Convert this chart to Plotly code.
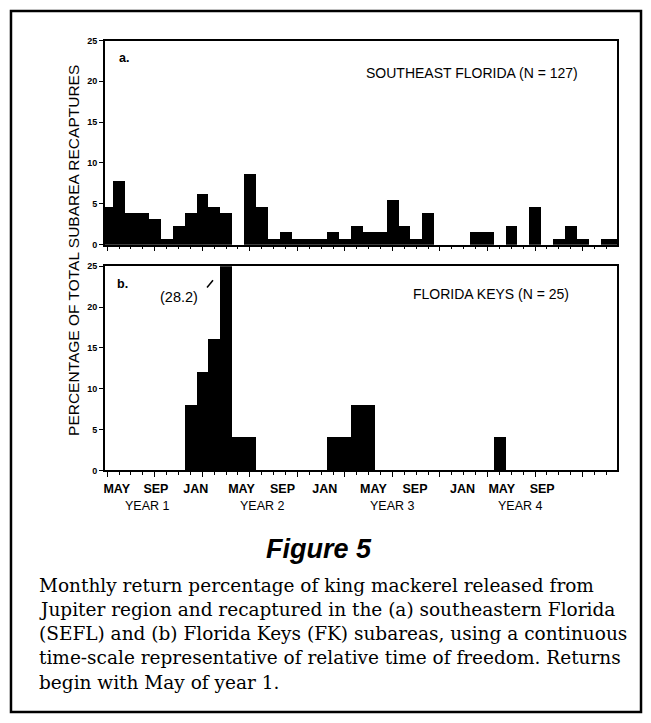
import plotly.graph_objects as go

# ---------------- data ----------------
# month index: 0 = May of year 1
months = list(range(44))
sefl_pct = [4.72, 7.87, 3.94, 3.94, 3.15, 0.79, 2.36, 3.94, 6.30, 4.72, 3.94, 0,
            8.66, 4.72, 0.79, 1.57, 0.79, 0.79, 0.79, 1.57, 0.79, 2.36, 1.57, 1.57,
            5.51, 2.36, 0.79, 3.94, 0, 0, 0, 1.57, 1.57, 0, 2.36, 0, 4.72, 0,
            0.79, 2.36, 0.79, 0, 0.79, 0.79]
fk_pct = [0, 0, 0, 0, 0, 0, 0, 8, 12, 16, 28.2, 4,
          4, 0, 0, 0, 0, 0, 0, 4, 4, 8, 8, 0,
          0, 0, 0, 0, 0, 0, 0, 0, 0, 4, 0, 0, 0, 0,
          0, 0, 0, 0, 0, 0]
month_labels = ["MAY", "SEP", "JAN", "MAY", "SEP", "JAN", "MAY", "SEP", "JAN", "MAY", "SEP"]
month_label_pos = [0.8, 4.1, 7.45, 11.3, 14.75, 18.3, 22.4, 25.9, 29.9, 33.2, 36.6]
year_labels = ["YEAR 1", "YEAR 2", "YEAR 3", "YEAR 4"]
year_label_pos = [3.4, 13.1, 24.0, 34.8]
y_ticks = [0, 5, 10, 15, 20, 25]
major_ticks = [0, 4, 8, 12, 16, 20, 24, 28, 32, 36, 40]
caption_lines = [
    "Monthly return percentage of king mackerel released from",
    "Jupiter region and recaptured in the (a) southeastern Florida",
    "(SEFL) and (b) Florida Keys (FK) subareas, using a continuous",
    "time-scale representative of relative time of freedom. Returns",
    "begin with May of year 1.",
]

W, H = 651, 723
XR = [-0.2, 42.9]
SANS = "Liberation Sans"


def py(p):
    return 1 - p / H


fig = go.Figure()
fig.add_trace(go.Bar(x=months, y=sefl_pct, width=1, marker=dict(color="black", line=dict(width=0)),
                     xaxis="x", yaxis="y", showlegend=False, hoverinfo="skip"))
fig.add_trace(go.Bar(x=months, y=fk_pct, width=1, marker=dict(color="black", line=dict(width=0)),
                     xaxis="x2", yaxis="y2", showlegend=False, hoverinfo="skip"))
# invisible trace so that the label axis (x3) is drawn
fig.add_trace(go.Scatter(x=month_label_pos, y=[0] * len(month_label_pos), mode="markers",
                         marker=dict(opacity=0), xaxis="x3", yaxis="y2", showlegend=False,
                         hoverinfo="skip"))

xdom = [104 / W, 617 / W]
common_x = dict(range=XR, showline=True, linecolor="black", linewidth=1.5, mirror=True,
                showgrid=False, zeroline=False, tickmode="array", tickvals=major_ticks,
                ticks="outside", ticklen=5, tickwidth=1.3, tickcolor="black",
                showticklabels=False,
                minor=dict(tickmode="linear", tick0=0, dtick=1, ticks="outside", ticklen=3,
                           tickwidth=1, tickcolor="black", showgrid=False))
common_y = dict(range=[0, 25], showline=True, linecolor="black", linewidth=1.5, mirror=True,
                showgrid=False, zeroline=False, tickmode="array", tickvals=y_ticks,
                ticks="outside", ticklen=4, tickwidth=1.3, tickcolor="black",
                tickfont=dict(family=SANS, size=9, color="black", weight="bold"))

fig.update_layout(
    width=W, height=H, autosize=False,
    margin=dict(l=0, r=0, t=0, b=0),
    paper_bgcolor="white", plot_bgcolor="white",
    bargap=0, barmode="overlay",
    xaxis=dict(domain=xdom, anchor="y", **common_x),
    yaxis=dict(domain=[py(243), py(36)], anchor="x", **common_y),
    xaxis2=dict(domain=xdom, anchor="y2", **common_x),
    yaxis2=dict(domain=[py(472), py(265)], anchor="x2", **common_y),
    xaxis3=dict(domain=xdom, anchor="y2", overlaying="x2", side="bottom", range=XR,
                showline=False, showgrid=False, zeroline=False, ticks="",
                tickmode="array", tickvals=month_label_pos, ticktext=month_labels,
                tickfont=dict(family=SANS, size=12.5, color="black", weight="bold"),
                ticklabelstandoff=9),
)

ann = []
# panel labels
ann.append(dict(x=1.4, y=22.8, xref="x", yref="y", text="a.", showarrow=False,
                font=dict(family=SANS, size=12.5, color="black", weight="bold")))
ann.append(dict(x=39.8, y=21.0, xref="x", yref="y", text="SOUTHEAST FLORIDA (N = 127)",
                xanchor="right", showarrow=False, font=dict(family=SANS, size=14, color="black")))
ann.append(dict(x=1.3, y=22.8, xref="x2", yref="y2", text="b.", showarrow=False,
                font=dict(family=SANS, size=12.5, color="black", weight="bold")))
ann.append(dict(x=39.0, y=21.6, xref="x2", yref="y2", text="FLORIDA KEYS (N = 25)",
                xanchor="right", showarrow=False, font=dict(family=SANS, size=14, color="black")))
ann.append(dict(x=6.0, y=21.2, xref="x2", yref="y2", text="(28.2)", showarrow=False,
                font=dict(family=SANS, size=14.5, color="black")))
# year labels
for t, xp in zip(year_labels, year_label_pos):
    ann.append(dict(x=xp, y=py(517), xref="x2", yref="paper", text=t, showarrow=False,
                    font=dict(family=SANS, size=12.5, color="black")))
# y-axis title
ann.append(dict(x=62 / W, y=py(249), xref="paper", yref="paper", showarrow=False,
                text="PERCENTAGE OF TOTAL SUBAREA RECAPTURES", textangle=-90,
                font=dict(family=SANS, size=15.5, color="black")))
# caption
ann.append(dict(x=318 / W, y=py(569), xref="paper", yref="paper", showarrow=False,
                text="<b><i>Figure 5</i></b>", font=dict(family=SANS, size=27, color="black")))
for i, line in enumerate(caption_lines):
    ann.append(dict(x=36 / W, y=py(601 + 24.6 * i), xref="paper", yref="paper", xanchor="left",
                    showarrow=False, text=line,
                    font=dict(family="DejaVu Serif", size=18.5, color="black")))
fig.update_layout(annotations=ann)

shapes = [
    dict(type="line", xref="x2", yref="y2", x0=8.4, y0=22.4, x1=8.9, y1=23.3,
         line=dict(color="black", width=1.5)),
    dict(type="rect", xref="paper", yref="paper", x0=10 / W, x1=641 / W, y0=py(717), y1=py(6),
         line=dict(color="black", width=2.5), fillcolor="rgba(0,0,0,0)"),
]
fig.update_layout(shapes=shapes)

fig.write_html("out.html")
